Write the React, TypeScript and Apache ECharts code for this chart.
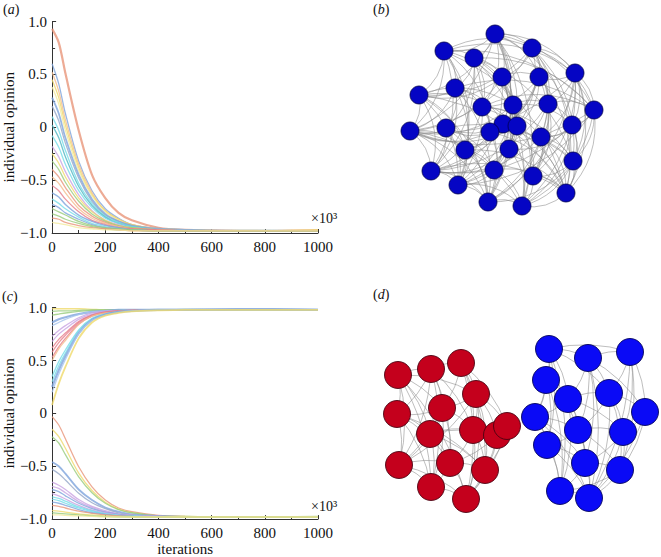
import React, { useEffect, useRef } from 'react';
import * as echarts from 'echarts';

// ---------- data ----------
const iterations = [0, 25, 50, 100, 150, 200, 250, 300, 400, 500, 700, 1000];
const yTickValues = [-1, -0.5, 0, 0.5, 1];

// panel (a): all opinions converge to -1
const opinionsA: number[][] = [
  [0.93, 0.80, 0.51, -0.03, -0.45, -0.67, -0.81, -0.88, -0.95, -0.97, -0.98, -0.975],
  [0.60, 0.41, 0.13, -0.32, -0.60, -0.77, -0.86, -0.92, -0.96, -0.97, -0.98, -0.98],
  [0.52, 0.34, 0.07, -0.35, -0.62, -0.79, -0.87, -0.92, -0.96, -0.97, -0.975, -0.98],
  [0.45, 0.28, 0.02, -0.38, -0.64, -0.79, -0.87, -0.92, -0.96, -0.97, -0.98, -0.97],
  [0.38, 0.22, -0.03, -0.41, -0.65, -0.80, -0.88, -0.93, -0.96, -0.97, -0.98, -0.98],
  [0.28, 0.13, -0.10, -0.45, -0.68, -0.82, -0.89, -0.93, -0.96, -0.97, -0.98, -0.98],
  [0.20, 0.06, -0.15, -0.48, -0.70, -0.83, -0.89, -0.93, -0.97, -0.98, -0.98, -0.98],
  [0.10, -0.03, -0.22, -0.53, -0.72, -0.84, -0.90, -0.94, -0.97, -0.98, -0.975, -0.98],
  [0.02, -0.10, -0.28, -0.56, -0.74, -0.85, -0.91, -0.94, -0.97, -0.98, -0.98, -0.98],
  [-0.08, -0.19, -0.35, -0.60, -0.76, -0.86, -0.91, -0.94, -0.97, -0.98, -0.98, -0.98],
  [-0.18, -0.28, -0.42, -0.64, -0.79, -0.88, -0.92, -0.95, -0.97, -0.98, -0.98, -0.98],
  [-0.25, -0.34, -0.47, -0.67, -0.80, -0.88, -0.93, -0.95, -0.97, -0.98, -0.98, -0.975],
  [-0.32, -0.40, -0.52, -0.70, -0.82, -0.89, -0.93, -0.95, -0.97, -0.98, -0.98, -0.98],
  [-0.40, -0.47, -0.57, -0.74, -0.84, -0.90, -0.94, -0.96, -0.97, -0.98, -0.98, -0.98],
  [-0.47, -0.53, -0.62, -0.77, -0.86, -0.91, -0.94, -0.96, -0.97, -0.98, -0.98, -0.98],
  [-0.55, -0.60, -0.68, -0.80, -0.88, -0.92, -0.95, -0.96, -0.97, -0.98, -0.98, -0.98],
  [-0.62, -0.66, -0.73, -0.83, -0.89, -0.93, -0.95, -0.97, -0.98, -0.98, -0.98, -0.98],
  [-0.68, -0.72, -0.77, -0.85, -0.91, -0.94, -0.96, -0.97, -0.98, -0.98, -0.98, -0.98],
  [-0.73, -0.76, -0.81, -0.87, -0.92, -0.95, -0.96, -0.97, -0.98, -0.98, -0.98, -0.98],
  [-0.77, -0.80, -0.83, -0.89, -0.93, -0.95, -0.96, -0.97, -0.98, -0.98, -0.98, -0.98],
  [-0.82, -0.84, -0.87, -0.91, -0.94, -0.96, -0.97, -0.97, -0.98, -0.98, -0.98, -0.98],
  [-0.86, -0.87, -0.90, -0.93, -0.95, -0.96, -0.97, -0.98, -0.98, -0.98, -0.98, -0.98],
  [-0.90, -0.91, -0.92, -0.95, -0.96, -0.97, -0.97, -0.98, -0.98, -0.98, -0.98, -0.98],
];

// panel (c): two camps, converging to +1 and -1
const opinionsCUpper: number[][] = [
  [0.99, 0.99, 0.99, 0.99, 0.985, 0.98, 0.98, 0.98, 0.98, 0.98, 0.98, 0.98],
  [0.965, 0.97, 0.97, 0.975, 0.98, 0.98, 0.98, 0.98, 0.98, 0.985, 0.98, 0.98],
  [0.93, 0.94, 0.95, 0.965, 0.975, 0.98, 0.98, 0.98, 0.98, 0.98, 0.98, 0.975],
  [0.86, 0.89, 0.91, 0.94, 0.96, 0.97, 0.98, 0.98, 0.98, 0.98, 0.985, 0.98],
  [0.83, 0.86, 0.89, 0.935, 0.96, 0.97, 0.975, 0.98, 0.98, 0.98, 0.98, 0.98],
  [0.73, 0.785, 0.83, 0.905, 0.95, 0.965, 0.97, 0.975, 0.98, 0.98, 0.98, 0.98],
  [0.68, 0.75, 0.80, 0.89, 0.94, 0.96, 0.97, 0.975, 0.98, 0.98, 0.98, 0.98],
  [0.62, 0.70, 0.76, 0.87, 0.93, 0.96, 0.97, 0.975, 0.98, 0.98, 0.975, 0.98],
  [0.58, 0.67, 0.74, 0.86, 0.93, 0.955, 0.97, 0.975, 0.98, 0.98, 0.98, 0.98],
  [0.53, 0.63, 0.71, 0.845, 0.92, 0.95, 0.965, 0.975, 0.98, 0.98, 0.98, 0.98],
  [0.50, 0.61, 0.69, 0.84, 0.92, 0.95, 0.965, 0.975, 0.98, 0.98, 0.98, 0.975],
  [0.35, 0.49, 0.60, 0.79, 0.90, 0.94, 0.96, 0.97, 0.98, 0.98, 0.98, 0.98],
  [0.30, 0.45, 0.57, 0.78, 0.89, 0.94, 0.96, 0.97, 0.98, 0.98, 0.98, 0.98],
  [0.25, 0.41, 0.54, 0.76, 0.885, 0.935, 0.96, 0.97, 0.98, 0.98, 0.985, 0.98],
  [0.20, 0.37, 0.51, 0.75, 0.88, 0.93, 0.955, 0.97, 0.98, 0.98, 0.98, 0.98],
  [0.08, 0.28, 0.44, 0.71, 0.86, 0.925, 0.95, 0.965, 0.975, 0.98, 0.98, 0.98],
];
const opinionsCLower: number[][] = [
  [-0.03, -0.11, -0.24, -0.505, -0.695, -0.82, -0.895, -0.93, -0.965, -0.975, -0.98, -0.98],
  [-0.15, -0.22, -0.33, -0.565, -0.73, -0.84, -0.905, -0.94, -0.97, -0.975, -0.98, -0.98],
  [-0.22, -0.28, -0.39, -0.60, -0.75, -0.85, -0.91, -0.94, -0.97, -0.975, -0.98, -0.975],
  [-0.46, -0.50, -0.57, -0.72, -0.82, -0.89, -0.93, -0.955, -0.97, -0.98, -0.98, -0.98],
  [-0.53, -0.57, -0.63, -0.755, -0.845, -0.90, -0.94, -0.96, -0.975, -0.98, -0.98, -0.98],
  [-0.65, -0.68, -0.72, -0.815, -0.88, -0.92, -0.95, -0.965, -0.975, -0.98, -0.98, -0.98],
  [-0.69, -0.71, -0.75, -0.835, -0.89, -0.93, -0.955, -0.965, -0.975, -0.98, -0.98, -0.98],
  [-0.72, -0.74, -0.78, -0.85, -0.90, -0.935, -0.955, -0.97, -0.975, -0.98, -0.98, -0.98],
  [-0.76, -0.78, -0.81, -0.87, -0.915, -0.94, -0.96, -0.97, -0.975, -0.98, -0.98, -0.98],
  [-0.79, -0.805, -0.83, -0.885, -0.92, -0.95, -0.965, -0.97, -0.98, -0.98, -0.98, -0.98],
  [-0.81, -0.825, -0.85, -0.895, -0.93, -0.95, -0.965, -0.97, -0.98, -0.98, -0.98, -0.98],
  [-0.84, -0.85, -0.87, -0.91, -0.94, -0.955, -0.97, -0.975, -0.98, -0.98, -0.98, -0.98],
  [-0.87, -0.88, -0.895, -0.925, -0.945, -0.96, -0.97, -0.975, -0.98, -0.98, -0.98, -0.98],
  [-0.92, -0.925, -0.935, -0.95, -0.96, -0.97, -0.975, -0.98, -0.98, -0.98, -0.98, -0.98],
  [-0.94, -0.945, -0.95, -0.96, -0.97, -0.975, -0.98, -0.98, -0.98, -0.98, -0.98, -0.98],
  [-0.96, -0.96, -0.965, -0.97, -0.975, -0.98, -0.98, -0.98, -0.98, -0.98, -0.98, -0.98],
];

// panel (b): network layout (node layout coordinates) and adjacency
const netBNodes: [number, number][] = [
  [495, 34], [444, 51], [532, 48], [474, 58], [575, 73], [502, 77], [539, 77], [455, 88],
  [419, 95], [482, 107], [513, 105], [548, 104], [594, 110], [503, 124], [517, 126],
  [490, 132], [572, 125], [446, 128], [410, 131], [541, 137], [509, 149], [465, 150],
  [573, 161], [431, 171], [494, 170], [533, 176], [458, 185], [566, 193], [488, 202], [522, 206],
];
const netBAdjacency = [
  '1 2 3 5 6 9 13 16 20 24 28 29 12 18 8 4', '3 7 8 10 15 18 21 26 27 4 23 2 12', '4 5 6 11 12 14 19 22 25 8 18 27',
  '5 7 9 10 14 17 23 29 12 26 22', '6 11 12 16 19 22 27 18 28 25 29', '6 8 10 13 18 20 24 28 26', '9 11 14 15 21 25 23 27',
  '8 9 13 17 18 23 26 12 28', '10 14 18 21 23 28 27 26', '12 15 19 22 27 23 28', '11 13 16 20 24 29 18 26',
  '12 16 19 25 28 23 26', '16 19 22 26 27 18 29', '14 17 21 24 29 23 27', '15 20 25 18 26', '17 18 21 28 27 22',
  '19 20 22 29 23 27', '18 23 24 26 22 28', '21 23 28 29 26', '22 25 27 23 28', '24 25 29 23', '24 26 28 27', '25 27 29 28',
  '26 28 27', '26 29 27', '27 29', '28 29', '29', '29', '',
];

// panel (d): two communities
const netDRedNodes: [number, number][] = [
  [398, 375], [431, 369], [461, 363], [476, 394], [442, 408], [397, 414], [430, 434], [473, 430],
  [497, 435], [507, 426], [399, 465], [450, 463], [485, 470], [431, 487], [466, 499],
];
const netDRedAdjacency = [
  '1 3 4 5 6 10 14 13', '2 4 5 7 11 13 10', '3 4 7 9 12 14', '4 7 8 9 12 14 10', '5 6 7 10 11 13',
  '6 10 11 13 12', '7 10 11 12 13 8', '8 9 11 12 14', '9 12 14 11', '12 14', '11 13 14', '12 13 14',
  '14', '14', '',
];
const netDBlueNodes: [number, number][] = [
  [549, 349], [588, 358], [630, 352], [546, 380], [568, 399], [609, 393], [535, 417], [645, 412],
  [578, 430], [623, 432], [547, 445], [585, 463], [620, 470], [560, 491], [589, 498],
];
const netDBlueAdjacency = [
  '1 3 4 6 10 13 2 5', '2 4 5 8 11 7 14', '5 7 9 12 14', '4 6 8 10 13', '5 6 8 9 11 13', '7 8 9 12 14',
  '8 10 11 13 14', '9 12 14', '9 10 11 14 12', '11 12 14', '11 13 14', '12 13 14', '14 13', '14', '',
];

// ---------- styles ----------
const COL = {
  orange: '#e8967a', blue: '#7ea4dc', lorange: '#f4bc8c', yellow: '#efd96a', lyellow: '#f2ea9c',
  cyan: '#74dce8', teal: '#4fb6c2', purple: '#c8a2e2', green: '#98cc7c', red: '#e67c8a',
  grey: '#93a6c8', lblue: '#a6c4ee',
};
const colorsA = [COL.orange, COL.blue, COL.lorange, COL.yellow, COL.lyellow, COL.blue, COL.grey,
  COL.cyan, COL.teal, COL.cyan, COL.purple, COL.yellow, COL.green, COL.orange, COL.lorange,
  COL.red, COL.blue, COL.cyan, COL.blue, COL.green, COL.green, COL.orange, COL.lyellow];
const widthsA = [2.2, 1.3, 1.3, 1.3, 1.3, 1.8, 1.3, 1.3, 1.3, 1.3, 1.3, 1.3, 1.3, 1.3, 1.3, 1.3, 1.5,
  1.3, 1.3, 1.3, 1.3, 1.3, 1.3];
const colorsCU = [COL.yellow, COL.green, COL.green, COL.blue, COL.lblue, COL.purple, COL.purple,
  COL.red, COL.red, COL.red, COL.lorange, COL.cyan, COL.cyan, COL.blue, COL.lblue, COL.yellow];
const widthsCU = [1.3, 1.3, 1.3, 2.2, 1.3, 1.3, 1.3, 1.3, 1.3, 1.3, 1.3, 1.3, 1.3, 2.2, 1.3, 1.8];
const colorsCL = [COL.orange, COL.yellow, COL.green, COL.blue, COL.grey, COL.purple, COL.purple,
  COL.blue, COL.purple, COL.cyan, COL.cyan, COL.blue, COL.orange, COL.yellow, COL.green, COL.lyellow];
const widthsCL = [1.3, 1.3, 1.3, 1.8, 1.3, 1.3, 1.3, 1.3, 1.3, 1.3, 1.3, 1.3, 1.3, 1.3, 1.3, 1.3];

const FONT = '"Liberation Serif", "Times New Roman", serif';

function parseLinks(adj: string[], offset: number) {
  const links: { source: string; target: string }[] = [];
  const seen = new Set<string>();
  adj.forEach((row, i) => {
    row.split(' ').filter(Boolean).forEach((j) => {
      const a = i + offset;
      const b = Number(j) + offset;
      const key = a < b ? `${a}-${b}` : `${b}-${a}`;
      if (a === b || seen.has(key)) return;
      seen.add(key);
      links.push({ source: String(a), target: String(b) });
    });
  });
  return links;
}

function lineSeries(rows: number[][], colors: string[], widths: number[], axisIndex: number) {
  return rows.map((vals, k) => ({
    type: 'line',
    xAxisIndex: axisIndex,
    yAxisIndex: axisIndex,
    data: iterations.map((x, i) => [x, vals[i]]),
    showSymbol: false,
    smooth: 0.3,
    silent: true,
    lineStyle: { color: colors[k % colors.length], width: widths[k % widths.length], opacity: 0.8 },
    z: 3,
  }));
}

function axisPair(index: number, showName: boolean) {
  const axisLine = { show: true, onZero: false, lineStyle: { color: '#333', width: 1 } };
  const x = {
    type: 'value', gridIndex: index, min: 0, max: 1000, interval: 200,
    axisLine, splitLine: { show: false },
    axisTick: { show: true, inside: true, length: 4, lineStyle: { color: '#333' } },
    minorTick: { show: true, splitNumber: 2, length: 3, lineStyle: { color: '#333' } },
    axisLabel: { color: '#111', fontFamily: FONT, fontSize: 15, margin: 6, formatter: (v: number) => String(v) },
    name: showName ? 'iterations' : '', nameLocation: 'middle', nameGap: 20,
    nameTextStyle: { color: '#111', fontFamily: FONT, fontSize: 15 },
  };
  const y = {
    type: 'value', gridIndex: index, min: -1, max: 1, interval: 0.5,
    axisLine, splitLine: { show: false },
    axisTick: { show: true, inside: true, length: 4, lineStyle: { color: '#333' } },
    minorTick: { show: true, splitNumber: 2, length: 3, lineStyle: { color: '#333' } },
    axisLabel: {
      color: '#111', fontFamily: FONT, fontSize: 15, margin: 5,
      formatter: (v: number) => (yTickValues.includes(v) ? (v === 0 ? '0' : v.toFixed(1).replace('-', '\u2212')) : ''),
    },
    name: 'individual opinion', nameLocation: 'middle', nameGap: 33,
    nameTextStyle: { color: '#111', fontFamily: FONT, fontSize: 15 },
  };
  return { x, y };
}

function panelLabel(letter: string, x: number, y: number) {
  return {
    type: 'text', x, y,
    style: {
      text: `{p|(}{i|${letter}}{p|)}`,
      rich: {
        p: { fontFamily: FONT, fontSize: 14, fill: '#111' },
        i: { fontFamily: FONT, fontSize: 14, fontStyle: 'italic', fill: '#111' },
      },
    },
  };
}

export default function App() {
  const ref = useRef<HTMLDivElement>(null);
  useEffect(() => {
    if (!ref.current) return;
    const chart = echarts.init(ref.current, undefined, { renderer: 'svg' });
    const a = axisPair(0, false);
    const c = axisPair(1, true);

    const netBData = netBNodes.map(([x, y], i) => ({ name: String(i), x, y }));
    const netBLinks = parseLinks(netBAdjacency, 0);

    const netDData = [
      ...netDRedNodes.map(([x, y], i) => ({
        name: String(i), x, y, symbolSize: 27,
        itemStyle: { color: '#c4001c', borderColor: '#4a0010', borderWidth: 0.9 },
      })),
      ...netDBlueNodes.map(([x, y], i) => ({
        name: String(i + 100), x, y, symbolSize: 27,
        itemStyle: { color: '#0a0af6', borderColor: '#00005a', borderWidth: 0.9 },
      })),
    ];
    const netDLinks = [...parseLinks(netDRedAdjacency, 0), ...parseLinks(netDBlueAdjacency, 100)];

    const option: any = {
      animation: false,
      backgroundColor: '#ffffff',
      grid: [
        { left: 50, right: 343, top: 21.5, height: 211.5 },
        { left: 50, right: 343, top: 307.7, height: 212 },
      ],
      xAxis: [a.x, c.x],
      yAxis: [a.y, c.y],
      series: [
        ...lineSeries(opinionsA, colorsA, widthsA, 0),
        ...lineSeries(opinionsCUpper, colorsCU, widthsCU, 1),
        ...lineSeries(opinionsCLower, colorsCL, widthsCL, 1),
        {
          type: 'graph', layout: 'none', silent: true,
          left: 410, top: 34, width: 184, height: 172,
          symbolSize: 18,
          data: netBData, links: netBLinks,
          itemStyle: { color: '#0505c4', borderColor: '#00004a', borderWidth: 0.8 },
          lineStyle: { color: '#8a8a8a', width: 0.7, opacity: 0.8, curveness: 0.25 },
          label: { show: false },
          emphasis: { disabled: true },
        },
        {
          type: 'graph', layout: 'none', silent: true,
          left: 397, top: 349, width: 248, height: 150,
          data: netDData, links: netDLinks,
          lineStyle: { color: '#8a8a8a', width: 0.7, opacity: 0.8, curveness: 0.14 },
          label: { show: false },
          emphasis: { disabled: true },
        },
      ],
      graphic: [
        panelLabel('a', 3, 2),
        panelLabel('b', 373, 2),
        panelLabel('c', 2, 289),
        panelLabel('d', 373, 287),
        { type: 'text', x: 311, y: 211, style: { text: '\u00d710\u00b3', fontFamily: FONT, fontSize: 14, fill: '#111' } },
        { type: 'text', x: 311, y: 499, style: { text: '\u00d710\u00b3', fontFamily: FONT, fontSize: 14, fill: '#111' } },
      ],
    };
    chart.setOption(option);
    return () => chart.dispose();
  }, []);
  return (
    <div
      ref={ref}
      style={{ position: 'fixed', left: 0, top: 0, width: 661, height: 557, background: '#fff' }}
    />
  );
}
